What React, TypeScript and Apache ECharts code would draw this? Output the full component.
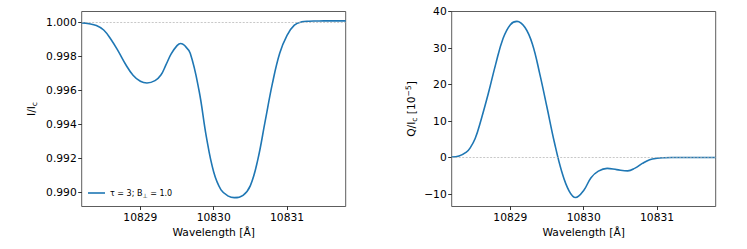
import React, { useEffect, useRef } from "react";
import * as echarts from "echarts";

const iWavelengths = [
  10828.2, 10828.3, 10828.4, 10828.5, 10828.6, 10828.7, 10828.8, 10828.9,
  10829.0, 10829.09, 10829.2, 10829.28, 10829.35, 10829.42, 10829.5, 10829.55,
  10829.6, 10829.68, 10829.8, 10829.9, 10830.0, 10830.1, 10830.2, 10830.28,
  10830.4, 10830.5, 10830.6, 10830.7, 10830.8, 10830.9, 10831.0, 10831.1,
  10831.2, 10831.3, 10831.4, 10831.5, 10831.8,
];

const intensity = [
  0.99998, 0.99993, 0.99982, 0.99956, 0.999, 0.9983, 0.99753, 0.9969,
  0.99654, 0.99644, 0.99658, 0.99691, 0.99752, 0.99815, 0.99864, 0.99877,
  0.99866, 0.99819, 0.996, 0.99327, 0.9912, 0.99015, 0.98978, 0.98969,
  0.98983, 0.9904, 0.9919, 0.99415, 0.9964, 0.99819, 0.99925, 0.99985,
  1.00004, 1.00008, 1.00009, 1.0001, 1.0001,
];

const qWavelengths = [
  10828.2, 10828.3, 10828.4, 10828.45, 10828.52, 10828.6, 10828.7, 10828.8,
  10828.9, 10829.0, 10829.09, 10829.2, 10829.3, 10829.4, 10829.5, 10829.6,
  10829.7, 10829.8, 10829.89, 10830.0, 10830.1, 10830.2, 10830.32, 10830.45,
  10830.6, 10830.7, 10830.8, 10830.9, 10831.0, 10831.1, 10831.2, 10831.8,
];

const stokesQ = [
  0.15, 0.45, 1.5, 2.6, 5.2, 10.3, 17.6, 25.6,
  32.6, 36.4, 37.3, 35.6, 31.1, 23.0, 13.7, 4.2,
  -3.8, -9.1, -10.95, -9.0, -5.5, -3.7, -2.95, -3.3,
  -3.65, -2.9, -1.6, -0.6, -0.2, -0.05, 0, 0,
];

const xTicks = [10829, 10830, 10831];
const leftYTicks = [0.99, 0.992, 0.994, 0.996, 0.998, 1.0];
const rightYTicks = [-10, 0, 10, 20, 30, 40];
const seriesName = "τ = 3; B⊥ = 1.0";

const FONT = "DejaVu Sans";
const BLUE = "#1f77b4";

export default function App() {
  const ref = useRef<HTMLDivElement>(null);
  useEffect(() => {
    if (!ref.current) return;
    const chart = echarts.init(ref.current, undefined, { renderer: "svg" });
    const labelStyle = { color: "#000", fontFamily: FONT, fontSize: 10.7 };
    const nameRich = {
      a: { fontFamily: FONT, fontSize: 10.7, color: "#000", lineHeight: 14 },
      s: { fontFamily: FONT, fontSize: 7.5, color: "#000", lineHeight: 9, verticalAlign: "bottom" as const },
      p: { fontFamily: FONT, fontSize: 7.5, color: "#000", lineHeight: 9, verticalAlign: "top" as const },
    };
    const xAxisBase = (gridIndex: number) => ({
      type: "value" as const,
      gridIndex,
      min: 10828.2,
      max: 10831.8,
      position: "bottom" as const,
      name: "Wavelength [Å]",
      nameLocation: "middle" as const,
      nameGap: 19,
      nameTextStyle: { ...labelStyle },
      axisLine: { show: false, onZero: false },
      splitLine: { show: false },
      axisTick: { show: true, length: 3.5, customValues: xTicks, lineStyle: { color: "#000", width: 0.8 } },
      axisLabel: { ...labelStyle, margin: 5, customValues: xTicks, formatter: (v: number) => String(Math.round(v)) },
    });
    const line = (x: number[], y: number[], xi: number, yi: number, name: string, refVal: number) => ({
      type: "line" as const,
      name,
      xAxisIndex: xi,
      yAxisIndex: yi,
      data: x.map((w, i) => [w, y[i]]),
      showSymbol: false,
      smooth: 0.4,
      lineStyle: { color: BLUE, width: 1.6 },
      itemStyle: { color: BLUE },
      markLine: {
        silent: true,
        symbol: "none",
        label: { show: false },
        lineStyle: { color: "#b0b0b0", width: 0.7, type: [2, 1.5] },
        data: [{ yAxis: refVal }],
      },
      z: 3,
    });
    chart.setOption({
      animation: false,
      backgroundColor: "#fff",
      grid: [
        { left: 81.7, top: 11.5, width: 264, height: 195, show: true, borderColor: "#333", borderWidth: 0.8, backgroundColor: "transparent" },
        { left: 451.7, top: 11.5, width: 264, height: 195, show: true, borderColor: "#333", borderWidth: 0.8, backgroundColor: "transparent" },
      ],
      legend: {
        data: [seriesName],
        left: 88,
        top: 189,
        padding: 0,
        icon: "rect",
        itemWidth: 17,
        itemHeight: 1.6,
        formatter: () => "{a|τ = 3; B}{s|⊥}{a| = 1.0}",
        textStyle: {
          rich: {
            a: { fontFamily: FONT, fontSize: 8, color: "#000", lineHeight: 10 },
            s: { fontFamily: FONT, fontSize: 6, color: "#000", lineHeight: 7, verticalAlign: "bottom" },
          },
        },
      },
      xAxis: [xAxisBase(0), xAxisBase(1)],
      yAxis: [
        {
          type: "value",
          gridIndex: 0,
          min: 0.98917,
          max: 1.00065,
          name: "{a|I/I}{s|c}",
          nameLocation: "middle",
          nameGap: 43,
          nameTextStyle: { rich: nameRich },
          axisLine: { show: false },
          splitLine: { show: false },
          axisTick: { show: true, length: 3.5, customValues: leftYTicks, lineStyle: { color: "#000", width: 0.8 } },
          axisLabel: { ...labelStyle, margin: 5, customValues: leftYTicks, formatter: (v: number) => v.toFixed(3) },
        },
        {
          type: "value",
          gridIndex: 1,
          min: -13.4,
          max: 40,
          name: "{a|Q/I}{s|c}{a| [10}{p|−5}{a|]}",
          nameLocation: "middle",
          nameGap: 33,
          nameTextStyle: { rich: nameRich },
          axisLine: { show: false },
          splitLine: { show: false },
          axisTick: { show: true, length: 3.5, customValues: rightYTicks, lineStyle: { color: "#000", width: 0.8 } },
          axisLabel: {
            ...labelStyle,
            margin: 5,
            customValues: rightYTicks,
            formatter: (v: number) => (v < 0 ? "\u2212" + Math.abs(v) : String(v)),
          },
        },
      ],
      series: [
        line(iWavelengths, intensity, 0, 0, seriesName, 1.0),
        line(qWavelengths, stokesQ, 1, 1, "Q", 0),
      ],
    });
    return () => chart.dispose();
  }, []);
  return (
    <div
      ref={ref}
      style={{ position: "fixed", left: 0, top: 0, width: 747, height: 249, background: "#fff" }}
    />
  );
}
